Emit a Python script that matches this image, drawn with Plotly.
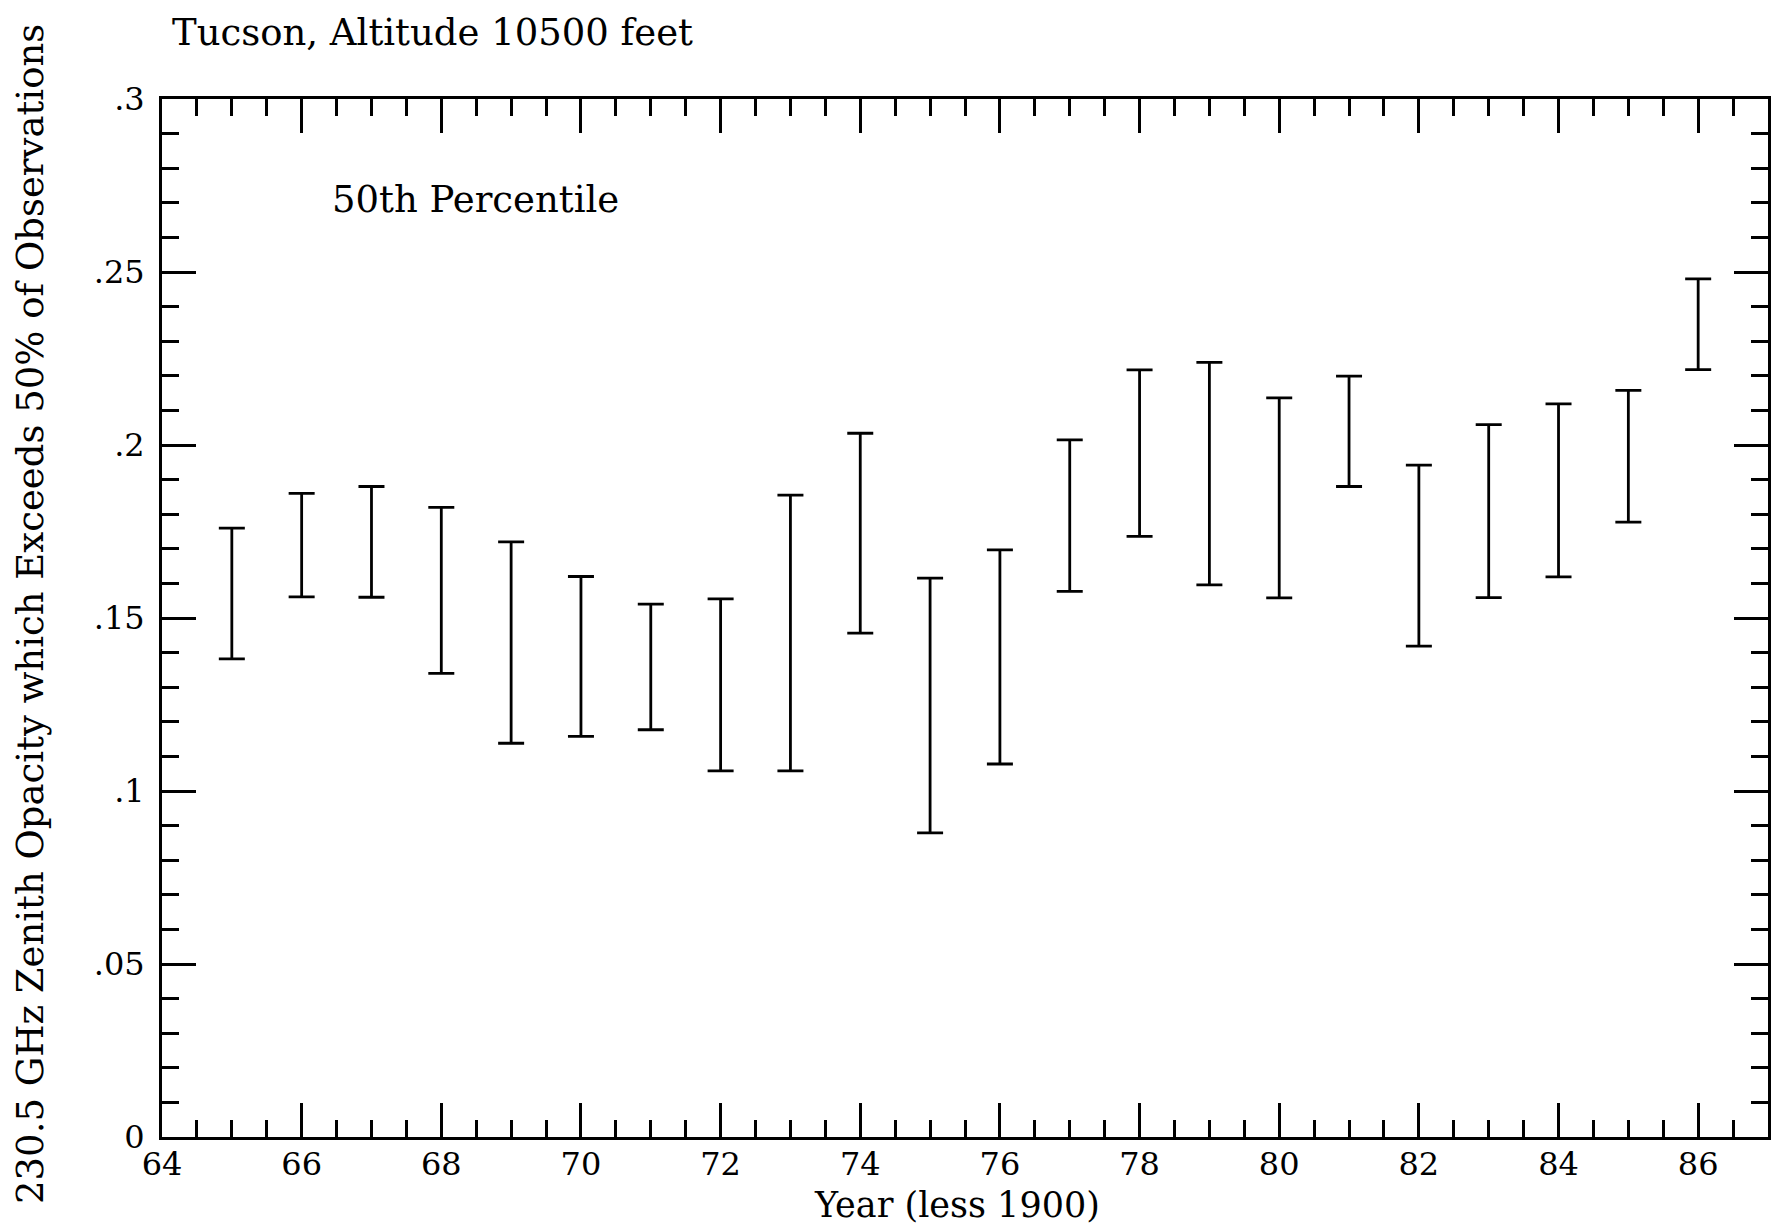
import plotly.graph_objects as go

# Year (less 1900)
years = [65, 66, 67, 68, 69, 70, 71, 72, 73, 74, 75, 76, 77, 78, 79, 80, 81, 82, 83, 84, 85, 86]
# upper and lower ends of the 50th-percentile opacity range
upper = [0.176, 0.186, 0.188, 0.182, 0.172, 0.162, 0.154, 0.1555, 0.1855, 0.2034, 0.1615,
         0.1697, 0.2015, 0.2217, 0.2239, 0.2136, 0.2199, 0.1942, 0.2059, 0.2119, 0.2158, 0.248]
lower = [0.1382, 0.1561, 0.156, 0.134, 0.1138, 0.1158, 0.1177, 0.1058, 0.1058, 0.1456, 0.0879,
         0.1078, 0.1577, 0.1736, 0.1596, 0.1558, 0.188, 0.1419, 0.1559, 0.1619, 0.1777, 0.2218]

x_tickvals = [64, 66, 68, 70, 72, 74, 76, 78, 80, 82, 84, 86]
x_ticktext = ["64", "66", "68", "70", "72", "74", "76", "78", "80", "82", "84", "86"]
y_tickvals = [0, 0.05, 0.1, 0.15, 0.2, 0.25, 0.3]
y_ticktext = ["0", ".05", ".1", ".15", ".2", ".25", ".3"]

mid = [(u + l) / 2 for u, l in zip(upper, lower)]
half = [(u - l) / 2 for u, l in zip(upper, lower)]

FONT = "DejaVu Serif"
fs_tick = 32
fs_text = 37

fig = go.Figure()
fig.add_trace(go.Scatter(
    x=years, y=mid, mode="markers",
    marker=dict(size=1, color="rgba(0,0,0,0)"),
    error_y=dict(type="data", array=half, symmetric=True,
                 color="black", thickness=2.8, width=13),
    showlegend=False, hoverinfo="skip",
))

axis_common = dict(
    showgrid=False, zeroline=False, showline=True, linecolor="black", linewidth=2.8,
    mirror="allticks", ticks="inside", ticklen=34, tickwidth=2.8, tickcolor="black",
    tickfont=dict(family=FONT, size=fs_tick, color="black"),
)

fig.update_xaxes(
    range=[64, 87], tickmode="array", tickvals=x_tickvals, ticktext=x_ticktext,
    minor=dict(dtick=0.5, tick0=64, ticklen=17, tickwidth=2.8, tickcolor="black", ticks="inside"),
    ticklabelstandoff=-3,
    **axis_common,
)
fig.update_yaxes(
    range=[0, 0.3], tickmode="array", tickvals=y_tickvals, ticktext=y_ticktext,
    minor=dict(dtick=0.01, tick0=0, ticklen=17, tickwidth=2.8, tickcolor="black", ticks="inside"),
    ticklabelstandoff=8,
    **axis_common,
)

fig.update_layout(
    width=1783, height=1227,
    margin=dict(l=162, r=13, t=99, b=90),
    paper_bgcolor="white", plot_bgcolor="white",
    font=dict(family=FONT, size=fs_text, color="black"),
    annotations=[
        dict(text="Tucson, Altitude 10500 feet", xref="paper", yref="paper",
             x=0.005, y=1.0636, xanchor="left", yanchor="middle", showarrow=False,
             font=dict(family=FONT, size=fs_text)),
        dict(text="50th Percentile", xref="x", yref="y", x=66.4, y=0.271,
             xanchor="left", yanchor="middle", showarrow=False,
             font=dict(family=FONT, size=fs_text)),
        dict(text="230.5 GHz Zenith Opacity which Exceeds 50% of Observations",
             xref="paper", yref="paper", x=-0.0815, y=0.504, textangle=-90,
             xanchor="center", yanchor="middle", showarrow=False,
             font=dict(family=FONT, size=fs_text)),
        dict(text="Year (less 1900)", xref="paper", yref="paper", x=0.495, y=-0.0654,
             xanchor="center", yanchor="middle", showarrow=False,
             font=dict(family=FONT, size=35)),
    ],
)

fig.write_html("out.html")
